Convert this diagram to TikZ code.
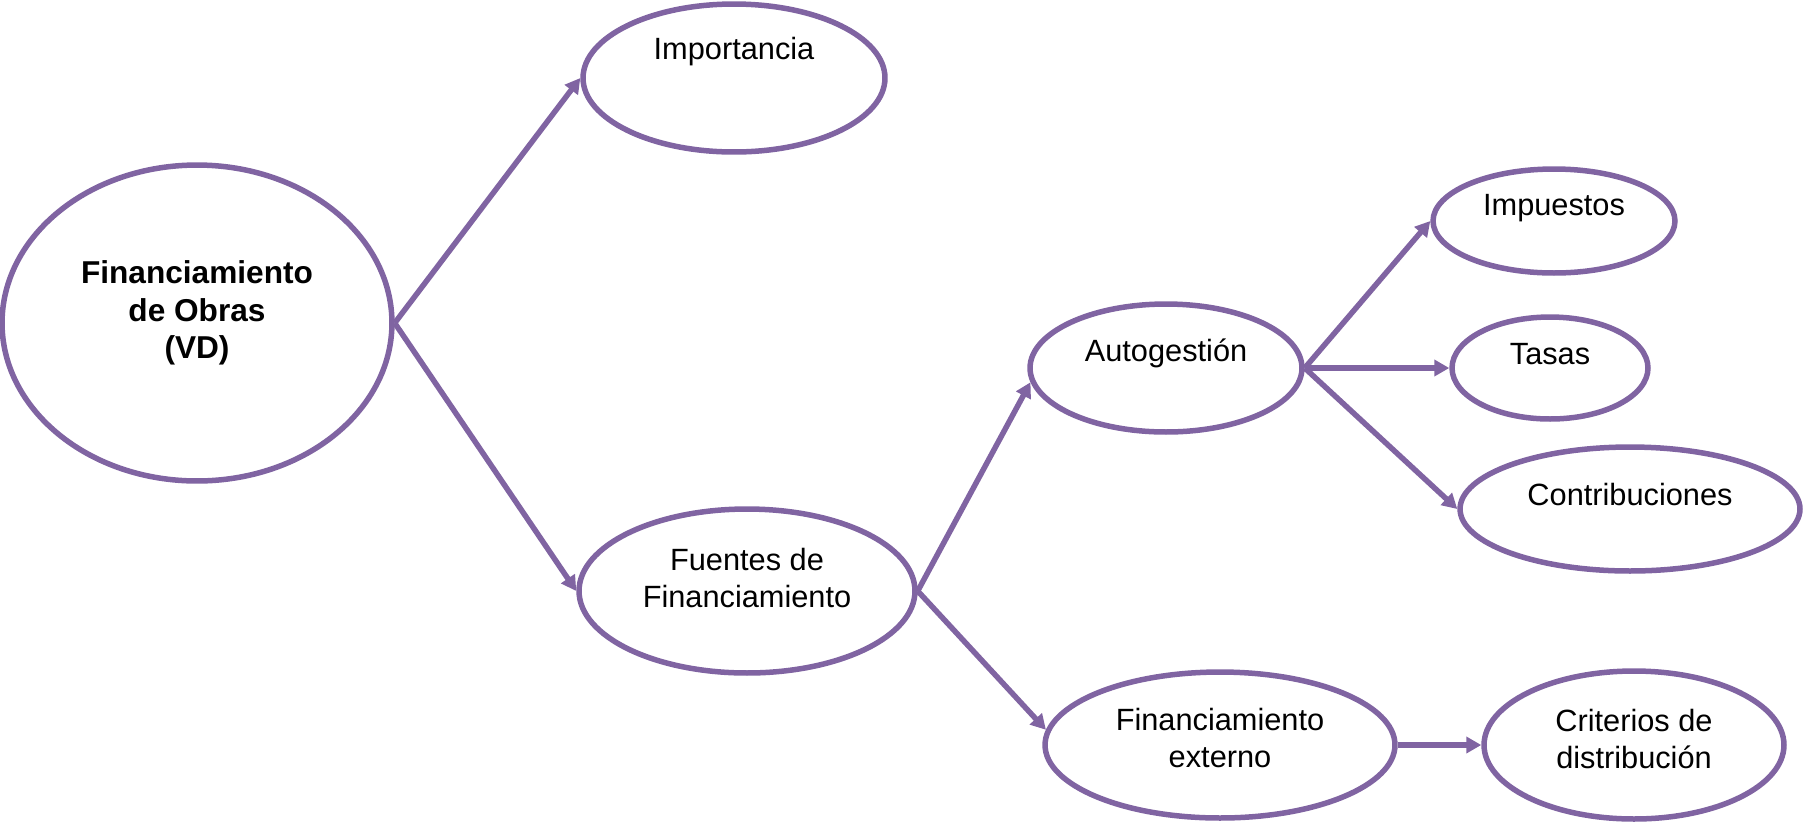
\documentclass[tikz,border=0pt]{standalone}
\usepackage{xcolor}
\usepackage{fontspec}
\setmainfont{Liberation Sans}
\usepackage{tikz}
\usetikzlibrary{arrows.meta,shapes.geometric}
\definecolor{ovalcolor}{RGB}{128, 100, 162}

\begin{document}
\begin{tikzpicture}[x=0.02cm, y=-0.02cm,
    oval/.style={ellipse, draw=ovalcolor, line width=0.11cm, inner sep=0pt, fill=white},
    txt/.style={align=center, inner sep=0pt, font=\fontsize{17.5}{21}\selectfont},
    link/.style={draw=ovalcolor, line width=0.11cm, -{Triangle[length=0.3cm, width=0.32cm]}}]
        % mapa de la variable: elipses y flechas
        \useasboundingbox (0,0) rectangle (1804,826);
        \node[oval, minimum width=7.8cm, minimum height=6.32cm] (main) at (197,323) {};
        \node[oval, minimum width=6.04cm, minimum height=2.96cm] (imp) at (734,78) {};
        \node[oval, minimum width=6.72cm, minimum height=3.28cm] (fue) at (747,591) {};
        \node[oval, minimum width=5.44cm, minimum height=2.56cm] (aut) at (1166,368) {};
        \node[oval, minimum width=4.84cm, minimum height=2.08cm] (imu) at (1554,221) {};
        \node[oval, minimum width=3.92cm, minimum height=2.04cm] (tas) at (1550,368) {};
        \node[oval, minimum width=6.8cm, minimum height=2.48cm] (con) at (1630,509) {};
        \node[oval, minimum width=7.0cm, minimum height=2.92cm] (ext) at (1220,745) {};
        \node[oval, minimum width=6.0cm, minimum height=2.96cm] (cri) at (1634,745) {};

        \node[txt, font=\fontsize{18}{21.5}\selectfont\bfseries] (mainT) at (197,313) {Financiamiento\\de Obras\\(VD)};
        \node[txt] (impT) at (734,52) {Importancia};
        \node[txt] (fueT) at (747,578) {Fuentes de\\Financiamiento};
        \node[txt] (autT) at (1166,353) {Autogestión};
        \node[txt] (imuT) at (1554,208) {Impuestos};
        \node[txt] (tasT) at (1550,354) {Tasas};
        \node[txt] (conT) at (1630,494) {Contribuciones};
        \node[txt] (extT) at (1220,738) {Financiamiento\\externo};
        \node[txt] (criT) at (1634,739) {Criterios de\\distribución};

        \draw[link] (main.east) -- (imp.west);
        \draw[link] (main.east) -- (fue.west);
        \draw[link] (fue.east) -- (aut.186);
        \draw[link] (fue.east) -- (ext.175);
        \draw[link] (aut.east) -- (imu.west);
        \draw[link] (aut.east) -- (tas.west);
        \draw[link] (aut.east) -- (con.west);
        \draw[link] (ext.east) -- (cri.west);
    \end{tikzpicture}
\end{document}
